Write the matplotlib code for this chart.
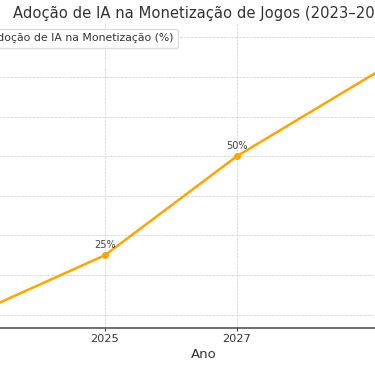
import matplotlib
matplotlib.use("Agg")
import matplotlib.pyplot as plt

# Data
anos = [2023, 2025, 2027, 2030]
adocao = [10, 25, 50, 80]
rotulos = ["10%", "25%", "50%", "80%"]

fig = plt.figure(figsize=(3.75, 3.66), dpi=100)
# axes run past the figure edges (the reference is a crop of a wider chart)
ax = fig.add_axes([-0.1336, 0.1025, 1.355, 0.8335])

ax.plot(anos, adocao, color="#FFA500", linewidth=1.8, marker="o", markersize=4,
        label="Adoção de IA na Monetização (%)")

for x, y, t in zip(anos, adocao, rotulos):
    ax.annotate(t, (x, y), textcoords="offset points", xytext=(0, 5),
                ha="center", fontsize=7, color="#444444")

ax.set_xticks(anos)
ax.set_yticks(range(10, 90, 10))
ax.set_title("Adoção de IA na Monetização de Jogos (2023–2030)", fontsize=10.6,
             color="#333333", pad=3.6, x=0.504)
ax.set_xlabel("Ano", fontsize=9.5, color="#333333", labelpad=3)
ax.set_ylabel("Adoção (%)", fontsize=9.5, color="#333333")
ax.tick_params(labelsize=8.2, colors="#333333", length=2.5, pad=1.5)
ax.grid(True, linestyle="--", linewidth=0.5, color="#cccccc")
for s in ["top", "right"]:
    ax.spines[s].set_visible(False)
ax.spines["bottom"].set_color("#555555")
ax.spines["bottom"].set_linewidth(1.2)
leg = ax.legend(loc="upper left", fontsize=7.8, framealpha=1, edgecolor="#dddddd")
for t in leg.get_texts():
    t.set_color("#333333")

fig.savefig("out.png", dpi=100)
